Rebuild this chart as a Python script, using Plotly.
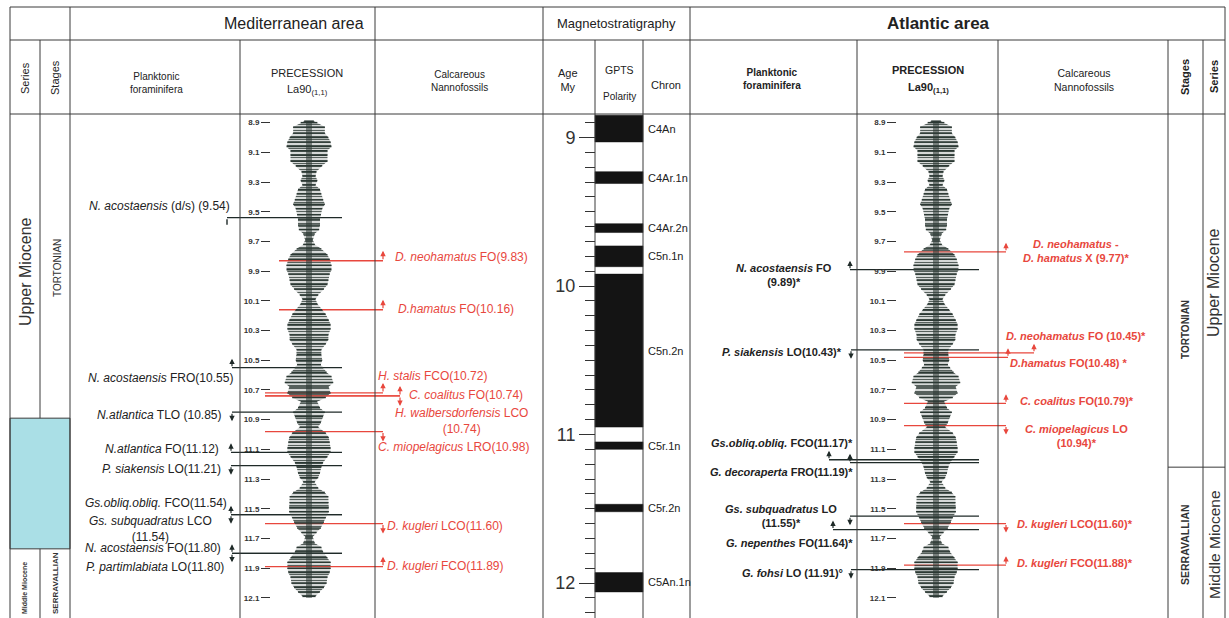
import plotly.graph_objects as go

# ====================== DATA ======================
# La90 precession envelope (half amplitude, precession-index units) vs age (Ma)
prec_age = [8.89, 8.90, 8.93, 8.97, 9.00, 9.03, 9.06, 9.09, 9.12, 9.16, 9.19, 9.23, 9.26, 9.29, 9.32,
            9.35, 9.38, 9.42, 9.45, 9.48, 9.52, 9.55, 9.59, 9.62, 9.65, 9.69, 9.72, 9.75, 9.79, 9.82,
            9.86, 9.89, 9.92, 9.96, 9.99, 10.02, 10.06, 10.09, 10.12, 10.16, 10.19, 10.23, 10.26, 10.29,
            10.33, 10.36, 10.39, 10.43, 10.46, 10.50, 10.53, 10.55, 10.58, 10.61, 10.65, 10.68, 10.72,
            10.75, 10.78, 10.82, 10.85, 10.88, 10.92, 10.95, 10.99, 11.02, 11.05, 11.09, 11.12, 11.15,
            11.19, 11.22, 11.26, 11.29, 11.32, 11.36, 11.39, 11.42, 11.46, 11.49, 11.52, 11.56, 11.59,
            11.63, 11.66, 11.69, 11.73, 11.76, 11.79, 11.83, 11.86, 11.90, 11.93, 11.96, 12.00, 12.03,
            12.06, 12.09, 12.10]
prec_amp = [0.011, 0.019, 0.036, 0.036, 0.044, 0.049, 0.051, 0.042, 0.042, 0.042, 0.030, 0.017, 0.015,
            0.019, 0.015, 0.025, 0.028, 0.032, 0.036, 0.030, 0.027, 0.025, 0.025, 0.023, 0.013, 0.009,
            0.013, 0.028, 0.042, 0.047, 0.051, 0.051, 0.047, 0.044, 0.042, 0.034, 0.021, 0.015, 0.019,
            0.030, 0.038, 0.045, 0.049, 0.049, 0.044, 0.044, 0.038, 0.028, 0.028, 0.030, 0.027,
            0.032, 0.040, 0.051, 0.055, 0.045, 0.049, 0.038, 0.019, 0.025, 0.036, 0.032, 0.027, 0.021,
            0.038, 0.045, 0.047, 0.049, 0.049, 0.042, 0.032, 0.028, 0.025, 0.021, 0.013, 0.021, 0.036,
            0.044, 0.044, 0.045, 0.045, 0.038, 0.034, 0.027, 0.017, 0.009, 0.013, 0.028, 0.032, 0.042,
            0.049, 0.049, 0.047, 0.042, 0.040, 0.034, 0.025, 0.015, 0.000]
prec_ticks = [8.9, 9.1, 9.3, 9.5, 9.7, 9.9, 10.1, 10.3, 10.5, 10.7, 10.9, 11.1, 11.3, 11.5, 11.7, 11.9, 12.1]

# GPTS normal-polarity chrons (Ma)
chron_names = ["C4An", "C4Ar.1n", "C4Ar.2n", "C5n.1n", "C5n.2n", "C5r.1n", "C5r.2n", "C5An.1n"]
chron_top = [8.85, 9.23, 9.58, 9.73, 9.92, 11.05, 11.47, 11.93]
chron_base = [9.03, 9.31, 9.64, 9.87, 10.95, 11.10, 11.52, 12.06]

# Mediterranean planktonic foraminifera
med_foram_labels = ["<i>N. acostaensis</i> (d/s) (9.54)", "<i>N. acostaensis</i> FRO(10.55)",
                    "<i>N.atlantica</i> TLO (10.85)", "<i>N.atlantica</i> FO(11.12)",
                    "<i>P. siakensis</i> LO(11.21)", "<i>Gs.obliq.obliq.</i> FCO(11.54)",
                    "<i>Gs. subquadratus</i> LCO<br>(11.54)", "<i>N. acostaensis</i> FO(11.80)",
                    "<i>P. partimlabiata</i> LO(11.80)"]
med_foram_ages = [9.54, 10.55, 10.85, 11.12, 11.21, 11.54, 11.54, 11.80, 11.80]
med_foram_dirs = ["stub", "up", "down", "up", "down", "up", "down", "up", "down"]

# Mediterranean calcareous nannofossils
med_nanno_labels = ["<i>D. neohamatus</i> FO(9.83)", "<i>D.hamatus</i> FO(10.16)",
                    "<i>H. stalis</i> FCO(10.72)", "<i>C. coalitus</i> FO(10.74)",
                    "<i>H. walbersdorfensis</i> LCO<br>(10.74)", "<i>C. miopelagicus</i> LRO(10.98)",
                    "<i>D. kugleri</i> LCO(11.60)", "<i>D. kugleri</i> FCO(11.89)"]
med_nanno_ages = [9.83, 10.16, 10.72, 10.74, 10.74, 10.98, 11.60, 11.89]
med_nanno_dirs = ["up", "up", "up", "up", "down", "down", "down", "up"]

# Atlantic planktonic foraminifera
atl_foram_labels = ["<i>N. acostaensis</i> FO<br>(9.89)*", "<i>P. siakensis</i> LO(10.43)*",
                    "<i>Gs.obliq.obliq.</i> FCO(11.17)*", "<i>G. decoraperta</i> FRO(11.19)*",
                    "<i>Gs. subquadratus</i> LO<br>(11.55)*", "<i>G. nepenthes</i> FO(11.64)*",
                    "<i>G. fohsi</i> LO (11.91)°"]
atl_foram_ages = [9.89, 10.43, 11.17, 11.19, 11.55, 11.64, 11.91]
atl_foram_dirs = ["up", "down", "up", "up", "down", "up", "down"]

# Atlantic calcareous nannofossils
atl_nanno_labels = ["<i>D. neohamatus</i> -<br><i>D. hamatus</i> X (9.77)*", "<i>D. neohamatus</i> FO (10.45)*",
                    "<i>D.hamatus</i> FO(10.48) *", "<i>C. coalitus</i> FO(10.79)*",
                    "<i>C. miopelagicus</i> LO<br>(10.94)*", "<i>D. kugleri</i> LCO(11.60)*",
                    "<i>D. kugleri</i> FCO(11.88)*"]
atl_nanno_ages = [9.77, 10.45, 10.48, 10.79, 10.94, 11.60, 11.88]
atl_nanno_dirs = ["up", "up", "up", "up", "down", "down", "up"]

# Chronostratigraphic boundaries
med_boundary_band = [10.89, 11.77]   # uncertain Tortonian / Serravallian interval (Mediterranean)
atl_boundary = 11.22                 # Tortonian / Serravallian (Atlantic)

# ====================== LAYOUT (pixel geometry) ======================
W, H = 1229, 618
P_TOP = 114            # top of the data area (px from top)
AGE_REF, P_REF, PX_MY = 9.0, 137.5, 148.5
AGE_TOP = AGE_REF + (P_TOP - P_REF) / PX_MY
AGE_BOT = AGE_REF + (H - P_REF) / PX_MY
DOM_TOP = (H - P_TOP) / H

BLACK = "#222222"
LINEC = "#1f2a28"
RED = "#e8473d"
FRAME = "#3a3a3a"
CURVE = "#2b3833"
FONT = "Liberation Sans, Arial, sans-serif"


def py(p):
    return 1 - p / H


def p_of_age(a):
    return P_REF + (a - AGE_REF) * PX_MY


fig = go.Figure()

# ---------- precession curves ----------
for xa in ("x2", "x3"):
    # envelope, hatched with horizontal strokes
    fig.add_trace(go.Scatter(
        x=prec_amp + [-a for a in reversed(prec_amp)],
        y=prec_age + prec_age[::-1],
        mode="lines", line=dict(width=0, color=CURVE), fill="toself",
        fillcolor="rgba(0,0,0,0)",
        fillpattern=dict(shape="-", size=3, solidity=0.5, fgcolor=CURVE, fgopacity=0.8,
                         bgcolor="rgba(0,0,0,0)"),
        xaxis=xa, yaxis="y", hoverinfo="skip", showlegend=False))
    # one horizontal stroke per reading of the envelope
    sx, sy = [], []
    for a, v in zip(prec_age, prec_amp):
        sx += [-v, v, None]
        sy += [a, a, None]
    fig.add_trace(go.Scatter(x=sx, y=sy, mode="lines", line=dict(width=1.5, color=CURVE),
                             xaxis=xa, yaxis="y", hoverinfo="skip", showlegend=False))
    # dense central part of the curve
    fig.add_trace(go.Scatter(x=[0] * len(prec_age), y=prec_age, mode="lines",
                             line=dict(width=6, color=CURVE), opacity=0.55,
                             xaxis=xa, yaxis="y", hoverinfo="skip", showlegend=False))

# ---------- GPTS polarity blocks ----------
bx, by = [], []
for t, b in zip(chron_top, chron_base):
    bx += [595, 643, 643, 595, 595, None]
    by += [t, t, b, b, t, None]
fig.add_trace(go.Scatter(x=bx, y=by, mode="lines", line=dict(width=0.5, color="#111"),
                         fill="toself", fillcolor="#141414", hoverinfo="skip", showlegend=False))

annotations = []
shapes = []


def add_text(x, y, text, size=12, color=BLACK, xanchor="center", yref="paper", yshift=0,
             angle=0, bold=False, align="center"):
    annotations.append(dict(x=x, y=y, xref="x", yref=yref, text=text, showarrow=False,
                            xanchor=xanchor, yanchor="middle", yshift=yshift, textangle=angle,
                            align=align,
                            font=dict(family=FONT, size=size, color=color,
                                      weight="bold" if bold else "normal")))


def add_arrow(x, age, direction, color, length=9):
    if direction == "stub":
        annotations.append(dict(x=x, y=age, xref="x", yref="y", text="", showarrow=True,
                                arrowhead=0, arrowwidth=1.4, arrowcolor=color,
                                ax=0, ay=-7, yshift=-7))
        return
    s = 1 if direction == "up" else -1
    annotations.append(dict(x=x, y=age, xref="x", yref="y", text="", showarrow=True,
                            arrowhead=2, arrowsize=0.9, arrowwidth=1.2, arrowcolor=color,
                            ax=0, ay=s * length, yshift=s * length))


def add_events(ages, labels, dirs, lines, arrow_x, texts, color, line_color, size, bold, alen):
    lx, ly = [], []
    for age, (x0, x1) in zip(ages, lines):
        lx += [x0, x1, None]
        ly += [age, age, None]
    fig.add_trace(go.Scatter(x=lx, y=ly, mode="lines", line=dict(width=1.3, color=line_color),
                             hoverinfo="skip", showlegend=False))
    for age, lab, d, ax_, (tx, anc, dy) in zip(ages, labels, dirs, arrow_x, texts):
        add_arrow(ax_, age, d, line_color, alen)
        add_text(tx, age, lab, size=size, color=color, xanchor=anc, yref="y", yshift=-dy,
                 bold=bold, align="center")


# Mediterranean foraminifera
add_events(med_foram_ages, med_foram_labels, med_foram_dirs,
           [(227, 342), (232, 342), (232, 342), (231, 342), (231, 342), (231, 342), (231, 342),
            (232, 342), (232, 342)],
           [227, 232, 232, 231, 231, 231, 231, 232, 232],
           [(232, "right", -12), (235, "right", 10), (224, "right", 2.7), (221, "right", -3.3),
            (223, "right", 3.3), (229, "right", -11.7), (150, "center", 14.5), (223, "right", -5),
            (226, "right", 14)],
           BLACK, LINEC, 12, False, 9)

# Mediterranean nannofossils
add_events(med_nanno_ages, med_nanno_labels, med_nanno_dirs,
           [(279, 383), (279, 383), (265, 383), (265, 400), (265, 400), (265, 383), (265, 383),
            (265, 383)],
           [383, 383, 383, 400, 400, 383, 383, 383],
           [(393, "left", -4), (396, "left", -1), (376, "left", -17), (407, "left", -0.7),
            (461, "center", 24.7), (376, "left", 15), (385, "left", 2), (385, "left", -1)],
           RED, RED, 12, False, 10)

# Atlantic foraminifera
add_events(atl_foram_ages, atl_foram_labels, atl_foram_dirs,
           [(850, 979), (851, 979), (829, 979), (850, 979), (850, 979), (833, 979), (851, 979)],
           [850, 851, 829, 850, 850, 833, 851],
           [(784, "center", 5.5), (844, "right", 2.4), (855, "right", -17), (855, "right", 9),
            (781, "center", -0.5), (855, "right", 13), (845, "right", 3)],
           BLACK, LINEC, 11, True, 9)

# Atlantic nannofossils
add_events(atl_nanno_ages, atl_nanno_labels, atl_nanno_dirs,
           [(904, 1006), (904, 1034), (904, 1008), (904, 1006), (904, 1006), (904, 1006), (904, 1006)],
           [1006, 1034, 1008, 1006, 1006, 1006, 1006],
           [(1076, "center", -0.5), (1004, "left", -17), (1008, "left", 5.5), (1018, "left", -2),
            (1076, "center", 10.7), (1015, "left", 0), (1015, "left", -2)],
           RED, RED, 11, True, 9)

# chron labels
for name, t, b in zip(chron_names, chron_top, chron_base):
    add_text(646, (max(t, AGE_TOP) + b) / 2, name, size=11, color=BLACK, xanchor="left", yref="y")


# ---------- frame ----------
def hline(p, x0, x1):
    shapes.append(dict(type="line", xref="x", yref="paper", x0=x0, x1=x1, y0=py(p), y1=py(p),
                       line=dict(color=FRAME, width=1)))


def vline(x, p0, p1):
    shapes.append(dict(type="line", xref="x", yref="paper", x0=x, x1=x, y0=py(p0), y1=py(p1),
                       line=dict(color=FRAME, width=1)))


# cyan uncertainty band (Mediterranean series / stages)
shapes.append(dict(type="rect", xref="x", yref="y", x0=10, x1=70, y0=med_boundary_band[0],
                   y1=med_boundary_band[1], fillcolor="#aadfe6", line=dict(color=FRAME, width=1),
                   layer="below"))
shapes.append(dict(type="line", xref="x", yref="y", x0=1168, x1=1225, y0=atl_boundary, y1=atl_boundary,
                   line=dict(color=FRAME, width=1)))

hline(7, 10, 1225)
hline(40, 10, 1225)
hline(P_TOP, 10, 1225)
for x in (10, 70, 375, 543, 690, 1225):
    vline(x, 7, 40)
for x in (10, 70, 240, 375, 543, 595, 643, 690, 857, 998, 1168, 1203, 1225):
    vline(x, 40, H)
vline(40, 40, p_of_age(med_boundary_band[0]))
vline(40, p_of_age(med_boundary_band[1]), H)

# ---------- header text ----------
add_text(294, py(24), "Mediterranean area", size=16)
add_text(616, py(24), "Magnetostratigraphy", size=13)
add_text(938, py(24), "Atlantic area", size=17, bold=True)

add_text(25, py(78), "Series", size=11, angle=-90)
add_text(55, py(78), "Stages", size=11, angle=-90)
add_text(156, py(83), "Planktonic<br>foraminifera", size=10)
add_text(307, py(73), "PRECESSION", size=11)
add_text(307, py(90), "La90<sub>(1,1)</sub>", size=11)
add_text(459, py(81), "Calcareous<br>Nannofossils", size=10)
add_text(568, py(80), "Age<br>My", size=11)
add_text(619, py(70), "GPTS", size=10.5)
add_text(619, py(97), "Polarity", size=10)
add_text(666, py(85), "Chron", size=11)
add_text(772, py(79), "Planktonic<br>foraminifera", size=10, bold=True)
add_text(928, py(70), "PRECESSION", size=11, bold=True)
add_text(928, py(88), "La90<sub>(1,1)</sub>", size=11, bold=True)
add_text(1084, py(80), "Calcareous<br>Nannofossils", size=10.5)
add_text(1185, py(77), "Stages", size=11, angle=-90, bold=True)
add_text(1214, py(77), "Series", size=11, angle=-90, bold=True)

# ---------- series / stages ----------
add_text(25, py(272), "Upper Miocene", size=16, angle=-90, color="#333")
add_text(57, py(268), "TORTONIAN", size=10, angle=-90, color="#333")
add_text(24, py(588), "Middle Miocene", size=7, angle=-90, bold=True, color="#333")
add_text(55, py(583), "SERRAVALLIAN", size=8, angle=-90, bold=True, color="#333")
add_text(1185, py(330), "TORTONIAN", size=10, angle=-90, bold=True, color="#333")
add_text(1214, py(283), "Upper Miocene", size=16, angle=-90, color="#333")
add_text(1185, py(545), "SERRAVALLIAN", size=10.5, angle=-90, bold=True, color="#333")
add_text(1214, py(545), "Middle Miocene", size=15.5, angle=-90, color="#333")

yrange = [AGE_BOT, AGE_TOP]
dom = [0, DOM_TOP]
tick_axis = dict(overlaying="y", anchor="free", side="left", range=yrange, domain=dom,
                 showgrid=False, zeroline=False, showline=False, ticks="outside")

fig.update_layout(
    width=W, height=H, autosize=False, margin=dict(l=0, r=0, t=0, b=0),
    paper_bgcolor="white", plot_bgcolor="rgba(0,0,0,0)", showlegend=False,
    xaxis=dict(range=[0, W], domain=[0, 1], visible=False, fixedrange=True),
    xaxis2=dict(range=[-0.159, 0.159], domain=[239 / W, 379 / W], anchor="y", visible=False),
    xaxis3=dict(range=[-0.159, 0.159], domain=[866 / W, 1006 / W], anchor="y", visible=False),
    yaxis=dict(range=yrange, domain=dom, visible=False),
    yaxis2=dict(tick_axis, position=595 / W, tick0=9, dtick=1, ticklen=16, tickwidth=1.2,
                tickcolor="#333", tickfont=dict(family=FONT, size=18, color="#333"),
                minor=dict(dtick=0.1, ticklen=10, tickwidth=1.1, tickcolor="#333", ticks="outside")),
    yaxis3=dict(tick_axis, position=270 / W, tickvals=prec_ticks,
                ticktext=[f"{v:.1f}" for v in prec_ticks], ticklen=9, tickwidth=1.2, tickcolor="#333",
                tickfont=dict(family=FONT, size=8, color="#333", weight="bold")),
    yaxis4=dict(tick_axis, position=896 / W, tickvals=prec_ticks,
                ticktext=[f"{v:.1f}" for v in prec_ticks], ticklen=9, tickwidth=1.2, tickcolor="#333",
                tickfont=dict(family=FONT, size=8, color="#333", weight="bold")),
    annotations=annotations, shapes=shapes,
)
# invisible traces so the tick-only axes are drawn
for ya in ("y2", "y3", "y4"):
    fig.add_trace(go.Scatter(x=[None], y=[None], yaxis=ya, xaxis="x", showlegend=False,
                             hoverinfo="skip"))

fig.write_html("out.html", config={"displayModeBar": False},
               post_script="document.body.style.margin='0';document.body.style.padding='0';")
